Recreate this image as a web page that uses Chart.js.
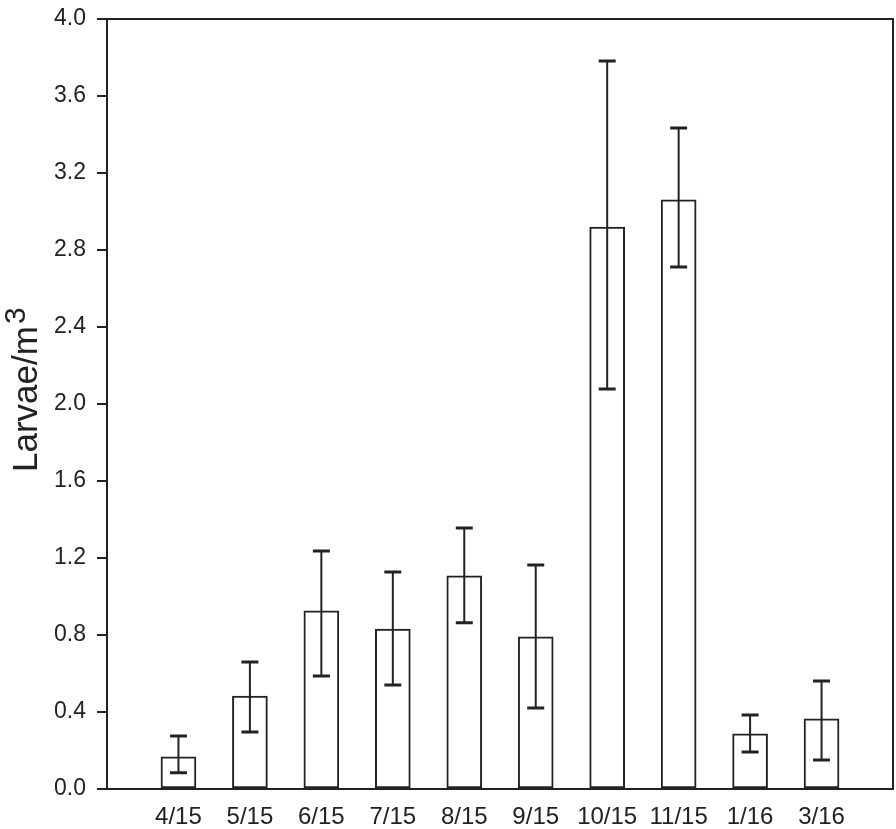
<!DOCTYPE html>
<html>
<head>
<meta charset="utf-8">
<script src="https://cdn.jsdelivr.net/npm/chart.js@4"></script>
<style>
    html, body { margin: 0; padding: 0; background: #fff; }
    #wrap { width: 896px; height: 829px; }
</style>
</head>
<body>
<div id="wrap"><canvas id="larvaeChart" width="896" height="829"></canvas></div>
<script>
// values
var months = ['4/15', '5/15', '6/15', '7/15', '8/15', '9/15', '10/15', '11/15', '1/16', '3/16'];
var larvae = [0.167, 0.483, 0.925, 0.831, 1.108, 0.79, 2.919, 3.06, 0.286, 0.364];
var errUpper = [0.275, 0.66, 1.236, 1.127, 1.356, 1.164, 3.782, 3.434, 0.384, 0.561];
var errLower = [0.085, 0.296, 0.587, 0.54, 0.864, 0.421, 2.078, 2.712, 0.192, 0.151];
var yTicks = [0.0, 0.4, 0.8, 1.2, 1.6, 2.0, 2.4, 2.8, 3.2, 3.6, 4.0];

// empty slot at each end so the bars sit one step in from the frame
var labels = [''].concat(months).concat(['']);
var barData = [null].concat(larvae).concat([null]);

var ink = '#222';

var errorBars = {
    id: 'errorBars',
    afterDatasetsDraw: function (chart) {
        var ctx = chart.ctx;
        var x = chart.scales.x, y = chart.scales.y;
        ctx.save();
        ctx.strokeStyle = ink;
        for (var i = 0; i < months.length; i++) {
            var px = x.getPixelForValue(i + 1);
            var top = y.getPixelForValue(errUpper[i]);
            var bot = y.getPixelForValue(errLower[i]);
            ctx.lineWidth = 2;
            ctx.beginPath();
            ctx.moveTo(px, top);
            ctx.lineTo(px, bot);
            ctx.stroke();
            ctx.lineWidth = 3;
            ctx.beginPath();
            ctx.moveTo(px - 8.5, top);
            ctx.lineTo(px + 8.5, top);
            ctx.moveTo(px - 8.5, bot);
            ctx.lineTo(px + 8.5, bot);
            ctx.stroke();
        }
        ctx.restore();
    }
};

var frameAndTitle = {
    id: 'frameAndTitle',
    afterDraw: function (chart) {
        var ctx = chart.ctx;
        var a = chart.chartArea;
        ctx.save();
        ctx.strokeStyle = ink;
        ctx.lineWidth = 2;
        ctx.strokeRect(a.left, a.top, a.right - a.left, a.bottom - a.top);

        // y title with superscript 3
        ctx.translate(37, 472);
        ctx.rotate(-Math.PI / 2);
        ctx.fillStyle = ink;
        ctx.textBaseline = 'alphabetic';
        ctx.textAlign = 'left';
        ctx.font = '35px "Liberation Sans", Arial, sans-serif';
        ctx.fillText('Larvae/m', 0, 0);
        var w = ctx.measureText('Larvae/m').width;
        ctx.font = '30px "Liberation Sans", Arial, sans-serif';
        ctx.fillText('3', w + 2, -12);
        ctx.restore();
    }
};

new Chart(document.getElementById('larvaeChart').getContext('2d'), {
    type: 'bar',
    data: {
        labels: labels,
        datasets: [{
            data: barData,
            backgroundColor: '#fff',
            borderColor: ink,
            borderWidth: 2,
            borderSkipped: false,
            barThickness: 35
        }]
    },
    options: {
        responsive: false,
        animation: false,
        layout: { padding: { top: 19, right: 3, left: 0, bottom: 0 } },
        plugins: {
            legend: { display: false },
            tooltip: { enabled: false }
        },
        scales: {
            x: {
                offset: false,
                grid: { display: false, drawTicks: false },
                border: { display: false },
                ticks: {
                    autoSkip: false,
                    maxRotation: 0,
                    padding: 14,
                    color: ink,
                    font: { family: '"Liberation Sans", Arial, sans-serif', size: 24 }
                },
                afterFit: function (scale) {
                    scale.height = 40;
                    scale.paddingLeft = 0;
                    scale.paddingRight = 0;
                }
            },
            y: {
                min: 0,
                max: 4,
                afterBuildTicks: function (scale) {
                    scale.ticks = yTicks.map(function (v) { return { value: v }; });
                },
                grid: {
                    drawOnChartArea: false,
                    tickLength: 10,
                    tickColor: ink,
                    lineWidth: 2
                },
                border: { display: false },
                ticks: {
                    padding: 11,
                    color: ink,
                    font: { family: '"Liberation Sans", Arial, sans-serif', size: 23 },
                    callback: function (v) { return Number(v).toFixed(1); }
                },
                afterFit: function (scale) {
                    scale.width = 107;
                    scale.paddingTop = 0;
                    scale.paddingBottom = 0;
                }
            }
        }
    },
    plugins: [errorBars, frameAndTitle]
});
</script>
</body>
</html>
